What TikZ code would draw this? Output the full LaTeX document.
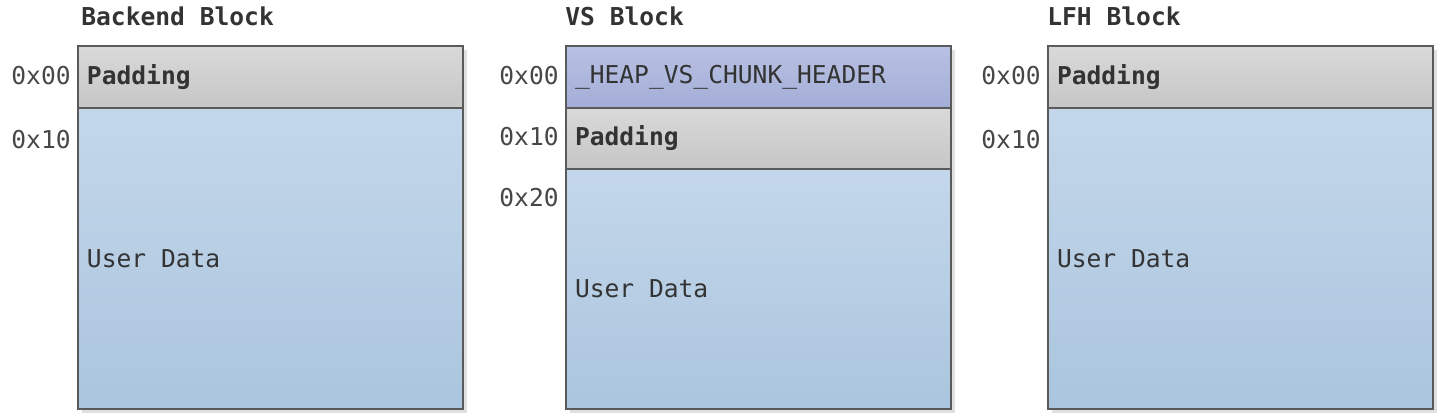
\documentclass[tikz,border=0pt]{standalone}
\usepackage{fontspec}
\setmonofont{DejaVu Sans Mono}
\usetikzlibrary{shadows}

\definecolor{padtop}{HTML}{D9D9D9}
\definecolor{padbot}{HTML}{C6C6C6}
\definecolor{datatop}{HTML}{C4D7EA}
\definecolor{databot}{HTML}{AAC5DE}
\definecolor{hdrtop}{HTML}{B8C1E3}
\definecolor{hdrbot}{HTML}{A4ADD6}
\definecolor{edge}{HTML}{5A5A5A}
\definecolor{ink}{HTML}{333333}

\newcommand{\memfont}{\ttfamily\fontsize{14}{16}\selectfont}

\begin{document}
\begin{tikzpicture}[x=0.02cm, y=-0.02cm]
		\tikzstyle{cell} = [rectangle, draw=edge, line width = 0.4mm, anchor = north west, minimum width = 7.7cm, text width = 7.34cm, inner xsep = 0.18cm, align = flush left, text = ink, font = \memfont, drop shadow = {shadow xshift = 0.08cm, shadow yshift = -0.08cm, fill = black!12, opacity = 1}]
		\tikzstyle{pad} = [cell, top color = padtop, bottom color = padbot, minimum height = 1.24cm, font = \memfont\bfseries]
		\tikzstyle{data} = [cell, top color = datatop, bottom color = databot]
		\tikzstyle{hdr} = [cell, top color = hdrtop, bottom color = hdrbot, minimum height = 1.24cm]
		\tikzstyle{offset} = [anchor = east, inner sep = 0, text = ink!90, font = \memfont]
		\tikzstyle{title} = [anchor = west, inner sep = 0, text = ink, font = \memfont\bfseries]
		\useasboundingbox (0,0) rectangle (1444,417);
		
		% backend block
		\node[title] at (81,16) (backtitle) {Backend Block};
		\node[pad] at (77,45) (backpad) {Padding};
		\node[data, minimum height = 6.02cm] at (77,107) (backdata) {User Data};
		\node[offset] at (71,76) (back00) {0x00};
		\node[offset] at (71,140) (back10) {0x10};
		
		% vs block
		\node[title] at (565,16) (vstitle) {VS Block};
		\node[hdr] at (565,45) (vshdr) {\_HEAP\_VS\_CHUNK\_HEADER};
		\node[pad, minimum height = 1.22cm] at (565,107) (vspad) {Padding};
		\node[data, minimum height = 4.8cm] at (565,168) (vsdata) {User Data};
		\node[offset] at (559,76) (vs00) {0x00};
		\node[offset] at (559,137) (vs10) {0x10};
		\node[offset] at (559,198) (vs20) {0x20};
		
		% lfh block
		\node[title] at (1047,16) (lfhtitle) {LFH Block};
		\node[pad] at (1047,45) (lfhpad) {Padding};
		\node[data, minimum height = 6.02cm] at (1047,107) (lfhdata) {User Data};
		\node[offset] at (1041,76) (lfh00) {0x00};
		\node[offset] at (1041,140) (lfh10) {0x10};
\end{tikzpicture}
\end{document}
